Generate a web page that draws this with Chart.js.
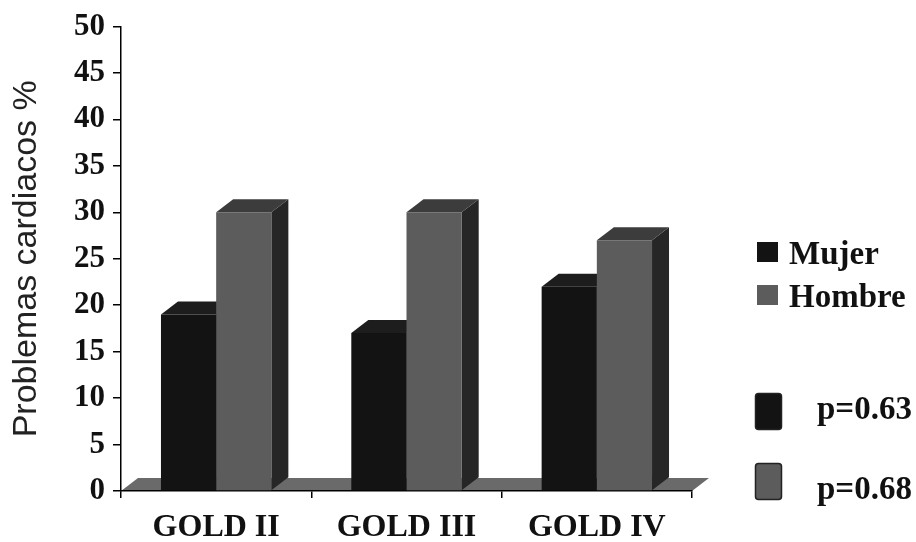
<!DOCTYPE html>
<html>
<head>
<meta charset="utf-8">
<script src="https://cdn.jsdelivr.net/npm/chart.js@4.4.0/dist/chart.umd.min.js"></script>
<style>
html,body{margin:0;padding:0;background:#fff}
#wrap{width:916px;height:542px}
</style>
</head>
<body>
<div id="wrap"><canvas id="chart" width="916" height="542"></canvas></div>
<script>
const categories = ["GOLD II", "GOLD III", "GOLD IV"]
const mujer = [19, 17, 22]
const hombre = [30, 30, 27]
const seriesNames = ["Mujer", "Hombre"]
const pValues = ["p=0.63", "p=0.68"]
const yMin = 0, yMax = 50, yStep = 5
const yTitle = "Problemas cardiacos %"

// 3d look: depth of each box
const dx = 17, dy = 13

function poly(ctx, pts){
  ctx.beginPath()
  ctx.moveTo(pts[0][0], pts[0][1])
  for(let i=1;i<pts.length;i++) ctx.lineTo(pts[i][0], pts[i][1])
  ctx.closePath()
  ctx.fill()
}

const depthPlugin = {
  id: "depth",
  beforeDraw(chart){
    const ctx = chart.ctx
    const xs = chart.scales.x, ys = chart.scales.y
    const y0 = ys.getPixelForValue(0)
    ctx.save()
    // floor
    ctx.fillStyle = "#6a6a6a"
    poly(ctx, [[xs.left, y0], [xs.right, y0], [xs.right+dx, y0-dy], [xs.left+dx, y0-dy]])
    ctx.restore()
  },
  beforeDatasetsDraw(chart){
    const ctx = chart.ctx
    ctx.save()
    chart.data.datasets.forEach((ds, i) => {
      const meta = chart.getDatasetMeta(i)
      meta.data.forEach(bar => {
        const p = bar.getProps(["x", "y", "base", "width"], true)
        const l = p.x - p.width/2, r = p.x + p.width/2
        ctx.fillStyle = ds.sideColor
        poly(ctx, [[r, p.y], [r+dx, p.y-dy], [r+dx, p.base-dy], [r, p.base]])
        ctx.fillStyle = ds.topColor
        poly(ctx, [[l, p.y], [l+dx, p.y-dy], [r+dx, p.y-dy], [r, p.y]])
      })
    })
    ctx.restore()
  },
  afterDraw(chart){
    const ctx = chart.ctx
    const ds = chart.data.datasets
    ctx.save()
    ctx.font = "bold 33px 'Liberation Serif'"
    ctx.textBaseline = "alphabetic"
    ctx.textAlign = "left"
    ds.forEach((d, i) => {
      ctx.fillStyle = d.backgroundColor
      ctx.fillRect(757, 242 + i*43, 21, 20)
      ctx.fillStyle = "#111"
      ctx.fillText(d.label, 789, 264 + i*43)
    })
    pValues.forEach((t, i) => {
      ctx.fillStyle = ds[i].backgroundColor
      ctx.strokeStyle = "#222"
      ctx.lineWidth = 1.5
      ctx.beginPath()
      ctx.roundRect(755.5, 393.5 + i*70, 26, 36, 3)
      ctx.fill()
      ctx.stroke()
      ctx.fillStyle = "#111"
      ctx.fillText(t, 817, 419 + i*80)
    })
    ctx.restore()
  }
}

new Chart(document.getElementById("chart"), {
  type: "bar",
  data: {
    labels: categories,
    datasets: [
      {label: seriesNames[0], data: mujer, backgroundColor: "#131313", topColor: "#1d1d1d", sideColor: "#0c0c0c",
       categoryPercentage: 0.58, barPercentage: 1},
      {label: seriesNames[1], data: hombre, backgroundColor: "#5c5c5c", topColor: "#3c3c3c", sideColor: "#262626",
       categoryPercentage: 0.58, barPercentage: 1}
    ]
  },
  options: {
    responsive: false,
    animation: false,
    layout: {padding: {left: 0, right: 224, top: 22, bottom: 0}},
    plugins: {legend: {display: false}, tooltip: {enabled: false}},
    scales: {
      x: {
        afterFit: s => { s.height = 51 },
        grid: {drawOnChartArea: false, tickLength: 7, color: "#000", lineWidth: 1.5, offset: true},
        border: {color: "#000", width: 1.5},
        ticks: {color: "#111", padding: 11, font: {family: "'Liberation Serif'", weight: "bold", size: 32}}
      },
      y: {
        min: yMin, max: yMax,
        afterFit: s => { s.width = 121 },
        grid: {drawOnChartArea: false, tickLength: 8, color: "#000", lineWidth: 1.5},
        border: {color: "#000", width: 1.5},
        ticks: {stepSize: yStep, color: "#111", padding: 8, font: {family: "'Liberation Serif'", weight: "bold", size: 31}},
        title: {display: true, text: yTitle, color: "#222", padding: {top: 6, bottom: 0},
                font: {family: "'Liberation Sans'", size: 34}}
      }
    }
  },
  plugins: [depthPlugin]
})
</script>
</body>
</html>
